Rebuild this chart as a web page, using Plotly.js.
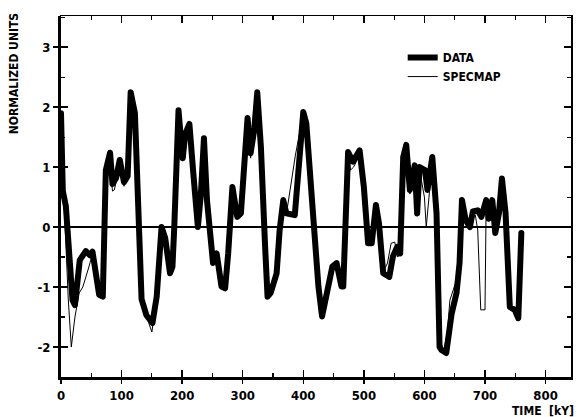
<!DOCTYPE html>
<html>
<head>
<meta charset="utf-8">
<script src="https://cdn.plot.ly/plotly-3.0.1.min.js"></script>
<style>
  html, body { margin: 0; padding: 0; background: #fff; }
  #chart { width: 577px; height: 417px; }
  .scatterlayer path.js-line { stroke-linejoin: round; stroke-linecap: round; }
</style>
</head>
<body>
<div id="chart"></div>
<script>
// ---- DATA (time in kY, normalized units) ----
const dataTime = [0, 3, 8, 13, 19, 23, 31, 41, 48, 52, 63, 69, 74, 81, 85, 91, 97, 104, 110, 115, 122,
  133, 141, 151, 158, 166, 172, 180, 184, 187, 191, 194, 199, 201, 205, 212, 218, 226, 231, 236, 241,
  246, 251, 257, 260, 265, 271, 276, 283, 291, 297, 304, 308, 313, 319, 324, 330, 337, 341, 346, 356,
  361, 367, 372, 386, 393, 400, 405, 416, 425, 431, 440, 448, 455, 463, 466, 470, 474, 482, 493, 500,
  507, 513, 520, 525, 532, 542, 548, 555, 560, 565, 570, 576, 584, 588, 592, 601, 605, 613, 620, 625,
  628, 636, 645, 653, 658, 662, 668, 675, 680, 688, 694, 702, 706, 712, 717, 723, 728, 734, 741, 749,
  755, 760];
const dataValues = [1.9, 0.6, 0.35, -0.3, -1.22, -1.3, -0.55, -0.4, -0.47, -0.41, -1.13, -1.16, 0.95, 1.24, 0.72, 0.82, 1.12, 0.75, 0.85, 2.25, 1.9,
  -1.2, -1.47, -1.6, -1.16, 0.0, -0.18, -0.77, -0.66, 0.0, 1.35, 1.95, 1.35, 1.15, 1.55, 1.72, 0.95, 0.0, 0.56, 1.48, 0.45,
  -0.22, -0.6, -0.44, -0.72, -0.99, -1.02, -0.44, 0.67, 0.17, 0.23, 1.34, 1.82, 1.23, 1.62, 2.25, 1.34, -0.33, -1.16, -1.1, -0.77,
  -0.05, 0.45, 0.23, 0.2, 1.06, 1.92, 1.73, 0.12, -0.99, -1.49, -1.1, -0.66, -0.6, -0.99, -0.99, 0.23, 1.25, 1.09, 1.28, 0.67,
  -0.27, -0.27, 0.37, 0.06, -0.77, -0.83, -0.49, -0.33, -0.44, 1.17, 1.37, 0.62, 1.03, 0.23, 1.0, 0.95, 0.62, 1.17, 0.23, -2.0,
  -2.05, -2.1, -1.44, -1.1, -0.6, 0.45, 0.12, 0.0, 0.26, 0.28, 0.17, 0.45, 0.14, 0.45, -0.1, 0.23, 0.81, 0.23, -1.33, -1.38,
  -1.52, -0.1];

// ---- SPECMAP ----
const specTime = [0, 3, 7, 12, 17, 23, 30, 36, 45, 52, 62, 69, 74, 80, 85, 88, 91, 97, 104, 110, 115, 122,
  133, 141, 150, 158, 166, 172, 180, 184, 187, 191, 194, 199, 201, 205, 212, 218, 226, 231, 236, 241,
  246, 251, 256, 261, 266, 271, 277, 283, 291, 297, 304, 308, 313, 319, 324, 330, 337, 341, 347, 356,
  361, 367, 374, 387, 400, 405, 416, 425, 432, 440, 448, 456, 463, 467, 470, 474, 478, 483, 493, 500,
  507, 513, 520, 526, 532, 539, 545, 551, 556, 560, 565, 570, 576, 584, 588, 592, 600, 603, 613, 620,
  626, 632, 638, 642, 653, 658, 662, 668, 675, 680, 684, 688, 693, 700, 702, 706, 712, 717, 723, 728,
  734, 741, 749, 753];
const specValues = [1.6, 0.9, -0.2, -1.2, -2.0, -1.5, -1.1, -1.0, -0.7, -0.45, -1.1, -1.15, 0.9, 1.15, 0.6, 0.62, 0.75, 1.1, 0.68, 0.85, 2.2, 1.85,
  -1.25, -1.5, -1.75, -1.2, 0.02, -0.15, -0.75, -0.62, 0.0, 1.3, 1.9, 1.3, 1.1, 1.5, 1.7, 0.9, 0.0, 0.5, 1.45, 0.42,
  -0.25, -0.55, -0.5, -0.78, -1.0, -1.0, -0.5, 0.65, 0.15, 0.2, 1.3, 1.75, 1.15, 1.55, 2.2, 1.3, -0.3, -1.1, -0.95, -0.7,
  -0.05, 0.42, 0.34, 1.2, 1.9, 1.7, 0.05, -1.05, -1.5, -1.0, -0.62, -0.62, -0.95, -0.95, 0.2, 1.2, 0.95, 1.0, 1.2, 0.62,
  -0.3, -0.3, 0.35, 0.0, -0.75, -0.6, -0.27, -0.25, -0.5, -0.4, 1.1, 1.3, 0.55, 0.95, 0.18, 0.95, 0.5, 0.0, 1.1, 0.2,
  -1.9, -2.05, -1.75, -1.22, -0.88, -0.5, 0.5, 0.1, 0.05, 0.25, 0.2, -0.05, -1.38, -1.38, 0.45, 0.12, 0.45, -0.12, 0.2, 0.75,
  0.2, -1.35, -1.4, -1.45];

// ---- Axis ticks / labels ----
const xTickVals = [0, 100, 200, 300, 400, 500, 600, 700, 800];
const xTickText = ['0', '100', '200', '300', '400', '500', '600', '700', '800'];
const yTickVals = [-2, -1, 0, 1, 2, 3];
const yTickText = ['-2', '-1', '0', '1', '2', '3'];
const seriesNames = ['DATA', 'SPECMAP'];
const xTitle = 'TIME  [kY]';
const yTitle = 'NORMALIZED UNITS';

const FONT = 'DejaVu Sans Condensed, Liberation Sans Narrow, Arial Narrow, sans-serif';
const xRange = [0, 842];
const yRange = [-2.5, 3.52];

const traces = [
  { x: dataTime, y: dataValues, name: seriesNames[0], mode: 'lines', type: 'scatter',
    line: { color: '#000', width: 6 }, xaxis: 'x', yaxis: 'y' },
  { x: specTime, y: specValues, name: seriesNames[1], mode: 'lines', type: 'scatter',
    line: { color: '#000', width: 1 }, xaxis: 'x', yaxis: 'y' },
  { x: [null], y: [null], mode: 'lines', showlegend: false, xaxis: 'x2', yaxis: 'y2', hoverinfo: 'skip' }
];

const layout = {
  width: 577, height: 417,
  margin: { l: 61, r: 6, t: 16, b: 40 },
  paper_bgcolor: '#fff', plot_bgcolor: '#fff',
  font: { family: FONT, color: '#000', size: 12, weight: 'bold' },
  showlegend: true,
  legend: {
    x: 0.67, y: 0.925, xanchor: 'left', yanchor: 'top',
    bgcolor: 'rgba(0,0,0,0)', borderwidth: 0,
    font: { family: FONT, size: 12, color: '#000', weight: 'bold' },
    itemwidth: 30, tracegroupgap: 0
  },
  xaxis: {
    range: xRange, showgrid: false, zeroline: false,
    showline: true, linecolor: '#000', linewidth: 1.5, mirror: 'ticks',
    tickmode: 'array', tickvals: xTickVals, ticks: 'inside', ticklen: 7, tickwidth: 1.5, tickcolor: '#000',
    showticklabels: false,
    minor: { dtick: 50, tick0: 0, ticks: 'inside', ticklen: 4, tickwidth: 1.2, tickcolor: '#000', showgrid: false }
  },
  yaxis: {
    range: yRange, showgrid: false,
    zeroline: true, zerolinecolor: '#000', zerolinewidth: 1.5,
    showline: true, linecolor: '#000', linewidth: 1.5, mirror: 'ticks',
    tickmode: 'array', tickvals: yTickVals, ticks: 'inside', ticklen: 7, tickwidth: 1.5, tickcolor: '#000',
    showticklabels: false,
    minor: { dtick: 0.5, tick0: 0, ticks: 'inside', ticklen: 4, tickwidth: 1.2, tickcolor: '#000', showgrid: false }
  },
  xaxis2: {
    matches: 'x', overlaying: 'x', anchor: 'y2', side: 'bottom', range: xRange,
    showgrid: false, zeroline: false,
    showline: true, linecolor: '#000', linewidth: 3,
    tickmode: 'array', tickvals: xTickVals, ticktext: xTickText,
    ticks: 'outside', ticklen: 4, tickwidth: 1.5, tickcolor: '#000',
    tickfont: { family: FONT, size: 13, color: '#000', weight: 'bold' }
  },
  yaxis2: {
    matches: 'y', overlaying: 'y', anchor: 'x2', side: 'left', range: yRange,
    showgrid: false, zeroline: false,
    showline: true, linecolor: '#000', linewidth: 3,
    tickmode: 'array', tickvals: yTickVals, ticktext: yTickText,
    ticks: 'outside', ticklen: 5, tickwidth: 1.5, tickcolor: '#000',
    tickfont: { family: FONT, size: 13, color: '#000', weight: 'bold' }
  },
  annotations: [
    { text: yTitle, xref: 'paper', yref: 'paper', x: -0.093, y: 0.84, textangle: -90,
      xanchor: 'center', yanchor: 'middle', showarrow: false,
      font: { family: FONT, size: 12, color: '#000', weight: 'bold' } },
    { text: xTitle, xref: 'paper', yref: 'paper', x: 1.01, y: -0.094,
      xanchor: 'right', yanchor: 'middle', showarrow: false,
      font: { family: FONT, size: 12, color: '#000', weight: 'bold' } }
  ],
  hovermode: false
};

Plotly.newPlot('chart', traces, layout, { displayModeBar: false, staticPlot: true });
</script>
</body>
</html>
